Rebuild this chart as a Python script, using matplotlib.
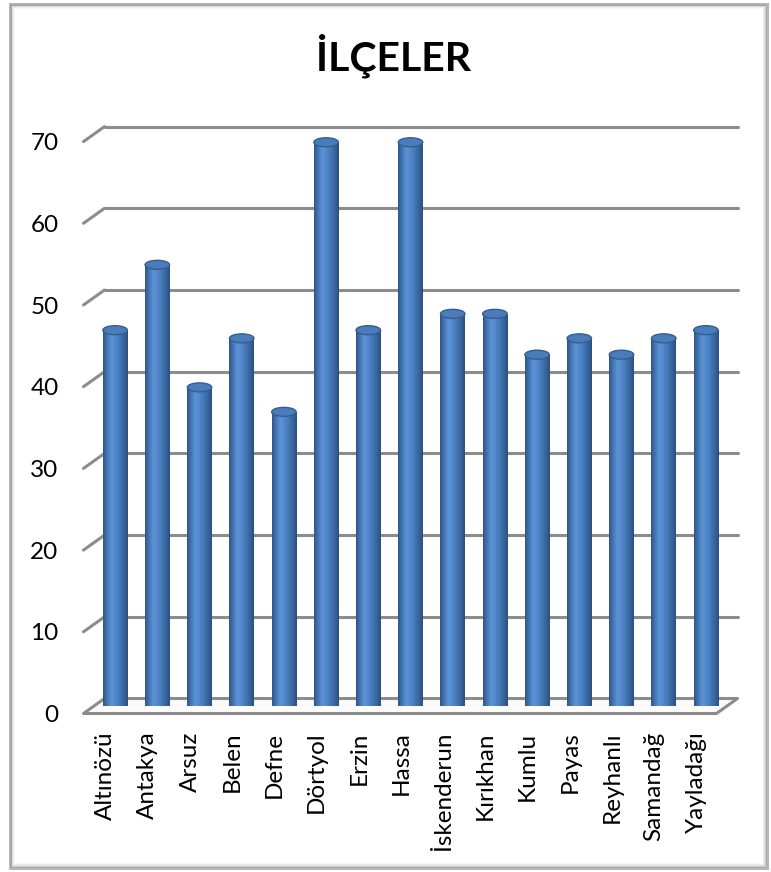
import numpy as np
import matplotlib
matplotlib.use("Agg")
import matplotlib.pyplot as plt
import matplotlib.transforms as mtransforms
from matplotlib.patches import Ellipse, Polygon, Rectangle
from matplotlib.colors import LinearSegmentedColormap

# data
districts = ["Altınözü", "Antakya", "Arsuz", "Belen", "Defne", "Dörtyol", "Erzin",
             "Hassa", "İskenderun", "Kırıkhan", "Kumlu", "Payas", "Reyhanlı",
             "Samandağ", "Yayladağı"]
counts = [46, 54, 39, 45, 36, 69, 46, 69, 48, 48, 43, 45, 43, 45, 46]
y_ticks = [0, 10, 20, 30, 40, 50, 60, 70]
title = "İLÇELER"

plt.rcParams["font.family"] = ["Lato", "DejaVu Sans"]

W, H, DPI = 771, 872, 100
fig = plt.figure(figsize=(W / DPI, H / DPI), dpi=DPI)
fig.patch.set_facecolor("white")

# outer frame with a soft inner shadow
for i, a in enumerate([0.55, 0.30, 0.18, 0.10, 0.05]):
    fig.patches.append(Rectangle(((10 + i) / W, (4 + i) / H), (757 - 2 * i) / W, (864 - 2 * i) / H,
                                 transform=fig.transFigure, fill=False,
                                 edgecolor="#7f7f7f", alpha=a, lw=1.2 if i else 2.2))

ax = fig.add_axes([94 / W, (H - 706) / H, 633 / W, 72 * 8.17 / H])
ax.set_xlim(-0.5, 14.5)
ax.set_ylim(0, 72)
ax.axis("off")

DX, DY = 10.5, 7.5
back = mtransforms.offset_copy(ax.transData, fig=fig, x=DX, y=DY, units="dots")
front = mtransforms.offset_copy(ax.transData, fig=fig, x=-DX, y=-DY, units="dots")
grid_kw = dict(color="#8c8c8c", lw=2.2, solid_capstyle="round", clip_on=False)
tick_tr = mtransforms.offset_copy(front, fig=fig, x=-25, y=-2, units="dots")

x = np.arange(len(districts))
x0, x1 = -0.5, len(districts) - 0.5

# back wall gridlines plus the left side diagonals
for t in y_ticks[1:]:
    ax.plot([x0, x1], [t, t], transform=back, zorder=1, **grid_kw)
    p_front = front.transform((x0, t))
    p_back = back.transform((x0, t))
    ax.plot([p_front[0], p_back[0]], [p_front[1], p_back[1]],
            transform=None, zorder=1, **grid_kw)

for t in y_ticks:
    ax.text(x0, t, str(t), transform=tick_tr, ha="right", va="center",
            fontsize=17.5, color="black")

# floor
corners = [front.transform((x0, 0)), front.transform((x1, 0)),
           back.transform((x1, 0)), back.transform((x0, 0))]
ax.add_patch(Polygon(corners, closed=True, transform=None, facecolor="#fbfbfb",
                     edgecolor="#8c8c8c", lw=2.2, zorder=1.5, clip_on=False, joinstyle="round"))

# cylinders
cyl = LinearSegmentedColormap.from_list(
    "cyl", ["#2e5689", "#4677b4", "#5d93d6", "#5189cc", "#4478b6", "#3a669d", "#2b5080"])
grad = np.linspace(0, 1, 64).reshape(1, -1)
bw = 0.58
cap_h = 9 / 8.17
bars = ax.bar(x, counts, width=bw, color="#4a7ebf", zorder=3, linewidth=0)
for xi, v, b in zip(x, counts, bars):
    base = Ellipse((xi, 0), bw, cap_h, facecolor="none", edgecolor="none", zorder=2.9)
    ax.add_patch(base)
    for patch, z in ((base, 2.95), (b, 3.1)):
        im = ax.imshow(grad, cmap=cyl, aspect="auto", zorder=z,
                       extent=(xi - bw / 2, xi + bw / 2, -cap_h, v), interpolation="bilinear")
        im.set_clip_path(patch)
    ax.add_patch(Ellipse((xi, v), bw, cap_h, facecolor="#4b7cba", edgecolor="#355d91",
                         lw=1.0, zorder=3.3))

ax.set_xlim(-0.5, 14.5)
ax.set_ylim(0, 72)

# category labels, sitting under the front edge
lab_tr = mtransforms.offset_copy(front, fig=fig, x=1, y=-18, units="dots")
for xi, name in zip(x, districts):
    ax.text(xi, 0, name, transform=lab_tr, rotation=90, ha="center", va="top",
            fontsize=17.5, color="black")

fig.text(394 / W, 1 - 71 / H, title, ha="center", va="baseline",
         fontsize=29.5, fontweight="bold", color="black")

fig.savefig("out.png", dpi=DPI)
